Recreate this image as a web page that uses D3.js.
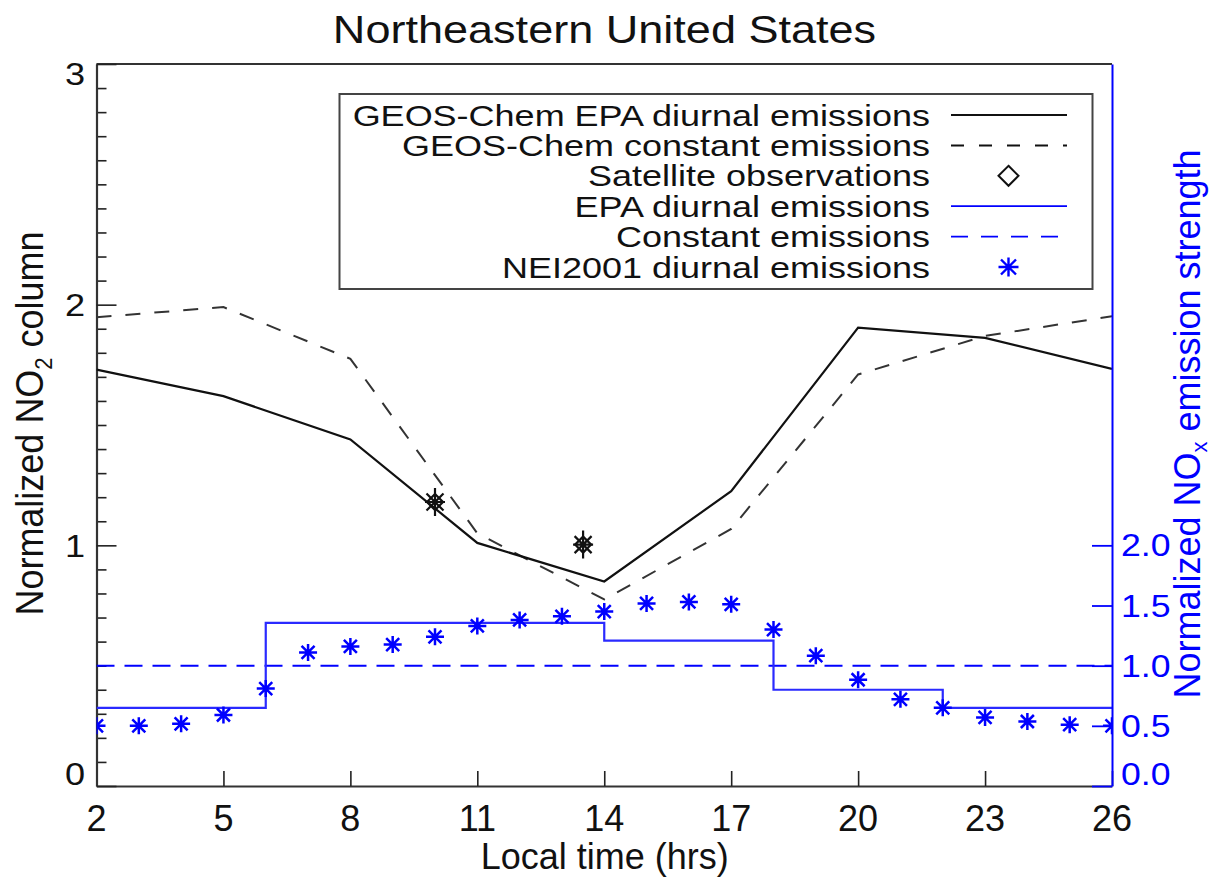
<!DOCTYPE html>
<html>
<head>
<meta charset="utf-8">
<script src="https://cdn.jsdelivr.net/npm/d3@7"></script>
<style>
  html, body { margin: 0; padding: 0; background: #fff; }
  svg { display: block; font-family: "Liberation Sans", Arial, Helvetica, sans-serif; }
</style>
</head>
<body>
<svg id="chart" width="1215" height="877"></svg>
<script>
// ---------------- data ----------------
const modelHours = [2, 5, 8, 11, 14, 17, 20, 23, 26];
const geosEPA    = [1.73, 1.62, 1.44, 1.01, 0.85, 1.225, 1.905, 1.862, 1.733];
const geosConst  = [1.948, 1.99, 1.775, 1.05, 0.775, 1.068, 1.71, 1.87, 1.952];

const satHours  = [10, 13.5];
const satValues = [1.18, 1.003];

const neiHours  = [2, 3, 4, 5, 6, 7, 8, 9, 10, 11, 12, 13, 14, 15, 16, 17, 18, 19, 20, 21, 22, 23, 24, 25, 26];
const neiValues = [0.50, 0.50, 0.517, 0.59, 0.81, 1.11, 1.16, 1.175, 1.24, 1.33, 1.38, 1.41, 1.45,
                   1.517, 1.53, 1.51, 1.30, 1.083, 0.883, 0.72, 0.65, 0.57, 0.536, 0.51, 0.50];

const epaStepHours  = [2, 6, 14, 18, 22, 26];
const epaStepValues = [0.65, 1.356, 1.208, 0.80, 0.65, 0.65];

const constHours  = [2, 26];
const constValues = [1.0, 1.0];

const xTicks      = [2, 5, 8, 11, 14, 17, 20, 23, 26];
const yLeftTicks  = [0, 1, 2, 3];
const yLeftMinor  = [0.1,0.2,0.3,0.4,0.5,0.6,0.7,0.8,0.9,1.1,1.2,1.3,1.4,1.5,1.6,1.7,1.8,1.9,2.1,2.2,2.3,2.4,2.5,2.6,2.7,2.8,2.9];
const yRightTicks = [0, 0.5, 1.0, 1.5, 2.0];

const legendLabels = ["GEOS-Chem EPA diurnal emissions", "GEOS-Chem constant emissions",
                      "Satellite observations", "EPA diurnal emissions",
                      "Constant emissions", "NEI2001 diurnal emissions"];
const legendKinds  = ["blackSolid", "blackDash", "diamond", "blueSolid", "blueDash", "star"];

// ---------------- layout ----------------
const L = 96.5, R = 1112, T = 64, B = 786;
const BLUE = "#0000ff";
const svg = d3.select("#chart");

const x  = d3.scaleLinear().domain([2, 26]).range([L, R]);
const yL = d3.scaleLinear().domain([0, 3]).range([B, T]);
const yR = d3.scaleLinear().domain([0, 6]).range([B, T]);

svg.append("defs").append("clipPath").attr("id", "plotclip")
  .append("rect").attr("x", L).attr("y", T).attr("width", R - L).attr("height", B - T);

function stretchText(parent, tx, ty, sx, sy, txt, opts) {
  const g = parent.append("g").attr("transform", `translate(${tx},${ty}) scale(${sx},${sy})`);
  const t = g.append("text").attr("x", 0).attr("y", 0)
    .attr("font-size", opts.size).attr("fill", opts.color || "#111")
    .attr("text-anchor", opts.anchor || "start").text(txt);
  return t;
}

function starPath(cx, cy, h, v, d) {
  return `M${cx-h},${cy}L${cx+h},${cy}M${cx},${cy-v}L${cx},${cy+v}` +
         `M${cx-d},${cy-d}L${cx+d},${cy+d}M${cx-d},${cy+d}L${cx+d},${cy-d}`;
}
function diamondPath(cx, cy, r) {
  return `M${cx},${cy-r}L${cx+r},${cy}L${cx},${cy+r}L${cx-r},${cy}Z`;
}

// ---------------- title ----------------
stretchText(svg, 604.5, 43, 1.155, 1, "Northeastern United States", {size: 39, anchor: "middle"});

// ---------------- axes ----------------
// bottom axis
const xAxis = d3.axisTop(x).tickValues(xTicks).tickSize(15).tickSizeOuter(0).tickFormat("");
const gx = svg.append("g").attr("transform", `translate(0,${B})`).call(xAxis);
gx.select(".domain").attr("stroke", "#333").attr("stroke-width", 2.2);
gx.selectAll(".tick line").attr("stroke", "#222").attr("stroke-width", 1.6);

svg.append("g").selectAll("text").data(xTicks).join("text")
  .attr("x", d => x(d)).attr("y", 831)
  .attr("text-anchor", "middle").attr("font-size", 36).attr("fill", "#111")
  .text(d => d);

// top border
svg.append("line").attr("x1", L).attr("x2", R).attr("y1", T).attr("y2", T)
  .attr("stroke", "#333").attr("stroke-width", 2);

// left axis
const gyMinor = svg.append("g").attr("transform", `translate(${L},0)`)
  .call(d3.axisRight(yL).tickValues(yLeftMinor).tickSize(10).tickSizeOuter(0).tickFormat(""));
gyMinor.select(".domain").remove();
gyMinor.selectAll(".tick line").attr("stroke", "#222").attr("stroke-width", 1.6);

const gy = svg.append("g").attr("transform", `translate(${L},0)`)
  .call(d3.axisRight(yL).tickValues(yLeftTicks).tickSize(20).tickSizeOuter(0).tickFormat(""));
gy.select(".domain").attr("stroke", "#333").attr("stroke-width", 2.2);
gy.selectAll(".tick line").attr("stroke", "#222").attr("stroke-width", 1.6);

yLeftTicks.forEach(v => {
  const by = Math.min(Math.max(yL(v) + 11.5, T + 21), B - 1);
  stretchText(svg, 85, by, 1.13, 1, String(v), {size: 32, anchor: "end"});
});

// left axis title
const ylab = svg.append("g").attr("transform", "translate(43,423.5) rotate(-90) scale(1,1.08)")
  .append("text").attr("text-anchor", "middle").attr("font-size", 36).attr("fill", "#111");
ylab.append("tspan").text("Normalized NO");
ylab.append("tspan").attr("font-size", 22).attr("dy", 8).text("2");
ylab.append("tspan").attr("dy", -8).text(" column");

// x title
svg.append("text").attr("x", 604.7).attr("y", 869).attr("text-anchor", "middle")
  .attr("font-size", 36).attr("fill", "#111").text("Local time (hrs)");

// ---------------- plot content ----------------
const plot = svg.append("g").attr("clip-path", "url(#plotclip)");

// constant emissions (blue dashed)
plot.append("path")
  .datum(constHours.map((h, i) => [h, constValues[i]]))
  .attr("d", d3.line().x(d => x(d[0])).y(d => yR(d[1])))
  .attr("fill", "none").attr("stroke", BLUE).attr("stroke-width", 2)
  .attr("stroke-dasharray", "18,10");

// EPA diurnal step (blue solid)
plot.append("path")
  .datum(epaStepHours.map((h, i) => [h, epaStepValues[i]]))
  .attr("d", d3.line().curve(d3.curveStepAfter).x(d => x(d[0])).y(d => yR(d[1])))
  .attr("fill", "none").attr("stroke", "#2a2aff").attr("stroke-width", 2.2);

// NEI2001 stars
plot.append("g").selectAll("path").data(neiHours.map((h, i) => [h, neiValues[i]])).join("path")
  .attr("d", d => starPath(x(d[0]), yR(d[1]), 9, 8.5, 6.5))
  .attr("fill", "none").attr("stroke", BLUE).attr("stroke-width", 2.5);

// GEOS-Chem constant (black dashed)
plot.append("path")
  .datum(modelHours.map((h, i) => [h, geosConst[i]]))
  .attr("d", d3.line().x(d => x(d[0])).y(d => yL(d[1])))
  .attr("fill", "none").attr("stroke", "#333").attr("stroke-width", 2)
  .attr("stroke-dasharray", "15,14");

// GEOS-Chem EPA diurnal (black solid)
plot.append("path")
  .datum(modelHours.map((h, i) => [h, geosEPA[i]]))
  .attr("d", d3.line().x(d => x(d[0])).y(d => yL(d[1])))
  .attr("fill", "none").attr("stroke", "#111").attr("stroke-width", 2.2);

// satellite observations
const sat = plot.append("g").selectAll("g").data(satHours.map((h, i) => [h, satValues[i]])).join("g");
sat.append("path").attr("d", d => diamondPath(x(d[0]), yL(d[1]), 8))
  .attr("fill", "none").attr("stroke", "#111").attr("stroke-width", 2.2);
sat.append("path").attr("d", d => starPath(x(d[0]), yL(d[1]), 10, 14, 8.5))
  .attr("fill", "none").attr("stroke", "#111").attr("stroke-width", 2.2);

// right axis (blue)
const gr = svg.append("g").attr("transform", `translate(${R},0)`)
  .call(d3.axisLeft(yR).tickValues(yRightTicks).tickSize(20).tickSizeOuter(0).tickFormat(""));
gr.select(".domain").attr("stroke", BLUE).attr("stroke-width", 2);
gr.selectAll(".tick line").attr("stroke", BLUE).attr("stroke-width", 1.8);

yRightTicks.forEach(v => {
  const by = Math.min(yR(v) + 11, B - 1);
  stretchText(svg, 1121, by, 1.15, 1, v.toFixed(1), {size: 31, anchor: "start", color: BLUE});
});

const yrlab = svg.append("g").attr("transform", "translate(1200,424) rotate(-90)")
  .append("text").attr("text-anchor", "middle").attr("font-size", 36).attr("fill", BLUE);
yrlab.append("tspan").text("Normalized NO");
yrlab.append("tspan").attr("font-size", 22).attr("dy", 7).text("x");
yrlab.append("tspan").attr("dy", -7).text(" emission strength");

// ---------------- legend ----------------
const lg = svg.append("g");
lg.append("rect").attr("x", 339.5).attr("y", 94).attr("width", 753).attr("height", 195)
  .attr("fill", "#fff").attr("stroke", "#444").attr("stroke-width", 2);

const rowY = [115, 145.4, 175.8, 206.2, 236.6, 267];
legendLabels.forEach((lab, i) => {
  const cy = rowY[i];
  stretchText(lg, 930, cy + 10.5, 1.2, 1, lab, {size: 30, anchor: "end"});
  const k = legendKinds[i];
  if (k === "blackSolid" || k === "blackDash" || k === "blueSolid" || k === "blueDash") {
    const blue = k.startsWith("blue");
    lg.append("line").attr("x1", 951).attr("x2", 1067).attr("y1", cy).attr("y2", cy)
      .attr("stroke", blue ? BLUE : "#111").attr("stroke-width", blue ? 1.8 : 2)
      .attr("stroke-dasharray", k.endsWith("Dash") ? (blue ? "17,13" : "13,15") : null);
  } else if (k === "diamond") {
    lg.append("path").attr("d", diamondPath(1008.5, cy, 10))
      .attr("fill", "none").attr("stroke", "#111").attr("stroke-width", 2);
  } else if (k === "star") {
    lg.append("path").attr("d", starPath(1008.5, cy, 10, 9.5, 7.5))
      .attr("fill", "none").attr("stroke", BLUE).attr("stroke-width", 2.4);
  }
});
</script>
</body>
</html>
